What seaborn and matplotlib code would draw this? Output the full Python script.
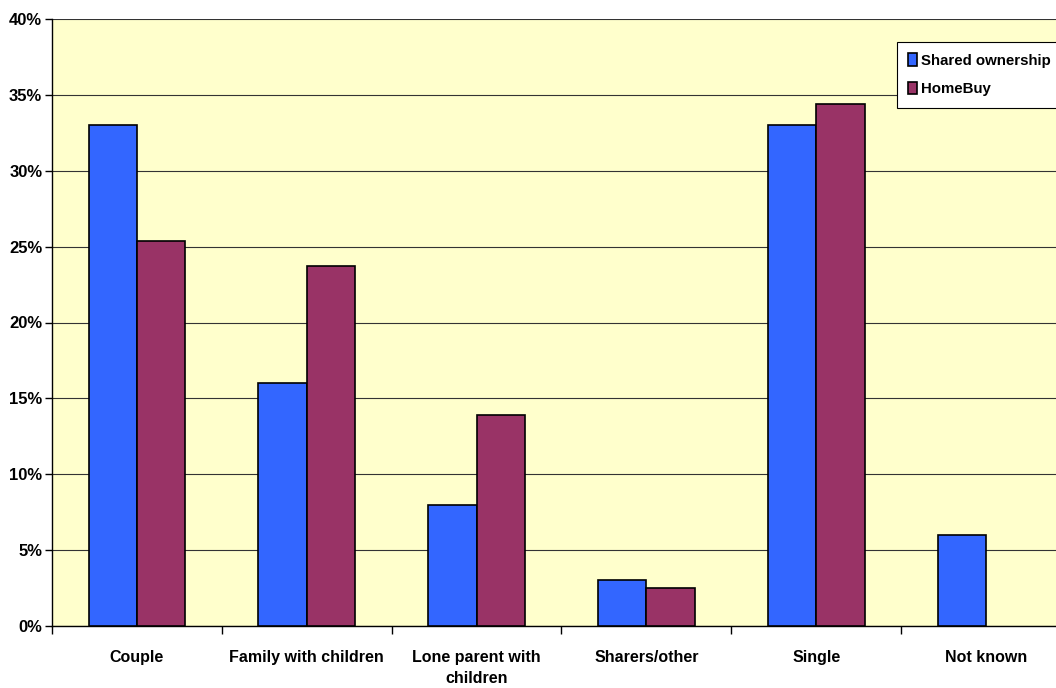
import matplotlib
matplotlib.use("Agg")
import matplotlib.pyplot as plt
import seaborn as sns
import pandas as pd
import numpy as np
from matplotlib.ticker import FuncFormatter, MultipleLocator

categories = ["Couple", "Family with children", "Lone parent with\nchildren",
              "Sharers/other", "Single", "Not known"]
shared_ownership = [33.0, 16.0, 8.0, 3.0, 33.0, 6.0]
homebuy = [25.4, 23.7, 13.9, 2.5, 34.4, np.nan]
series_names = ["Shared ownership", "HomeBuy"]
colors = ["#3366FF", "#993366"]

df = pd.DataFrame({
    "category": categories * 2,
    "value": shared_ownership + homebuy,
    "series": [series_names[0]] * len(categories) + [series_names[1]] * len(categories),
})

sns.set_style("white")
plt.rcParams["font.family"] = ["Liberation Sans", "DejaVu Sans"]
plt.rcParams["font.weight"] = "bold"
plt.rcParams["text.color"] = "black"
plt.rcParams["xtick.color"] = "black"
plt.rcParams["ytick.color"] = "black"
plt.rcParams["xtick.labelcolor"] = "black"
plt.rcParams["ytick.labelcolor"] = "black"

fig = plt.figure(figsize=(10.56, 6.88), dpi=100)
ax = fig.add_axes([52 / 1056, 1 - 626 / 688, (1071 - 52) / 1056, (626 - 19) / 688])
ax.set_facecolor("#FFFFCC")

sns.barplot(data=df, x="category", y="value", hue="series", palette=colors,
            width=0.57, edgecolor="black", linewidth=1.2, saturation=1,
            ax=ax, zorder=3)

ax.set_ylim(0, 40)
ax.set_xlim(-0.5, len(categories) - 0.5)
ax.yaxis.set_major_locator(MultipleLocator(5))
ax.yaxis.set_major_formatter(FuncFormatter(lambda v, p: f"{v:.0f}%"))
ax.grid(axis="y", color="#333333", linewidth=0.8, zorder=0)
ax.set_axisbelow(True)

for s in ["top", "right"]:
    ax.spines[s].set_visible(False)
for s in ["left", "bottom"]:
    ax.spines[s].set_color("black")
    ax.spines[s].set_linewidth(1.0)

ax.set_xlabel("")
ax.set_ylabel("")
ax.tick_params(axis="y", left=True, length=5, width=1, color="black",
               labelsize=12, pad=2, labelcolor="black")
ax.set_xticks(np.arange(len(categories)))
ax.set_xticklabels(categories, fontsize=11.5, fontweight="bold",
                   linespacing=1.5, color="black")
ax.tick_params(axis="x", bottom=False, pad=14)
ax.set_xticks(np.arange(len(categories) + 1) - 0.5, minor=True)
ax.tick_params(axis="x", which="minor", bottom=True, length=6, width=1, color="black")
for lbl in ax.get_yticklabels():
    lbl.set_fontweight("bold")

leg = ax.legend(loc="upper left", bbox_to_anchor=(0.829, 0.962), frameon=True,
                fancybox=False, edgecolor="black", framealpha=1,
                prop={"size": 10.8, "weight": "bold"},
                handlelength=0.6, handleheight=0.9, handletextpad=0.25,
                borderpad=0.75, labelspacing=0.95, borderaxespad=0)
leg.get_frame().set_linewidth(0.8)
for t in leg.get_texts():
    t.set_color("black")

fig.savefig("out.png", dpi=100)
